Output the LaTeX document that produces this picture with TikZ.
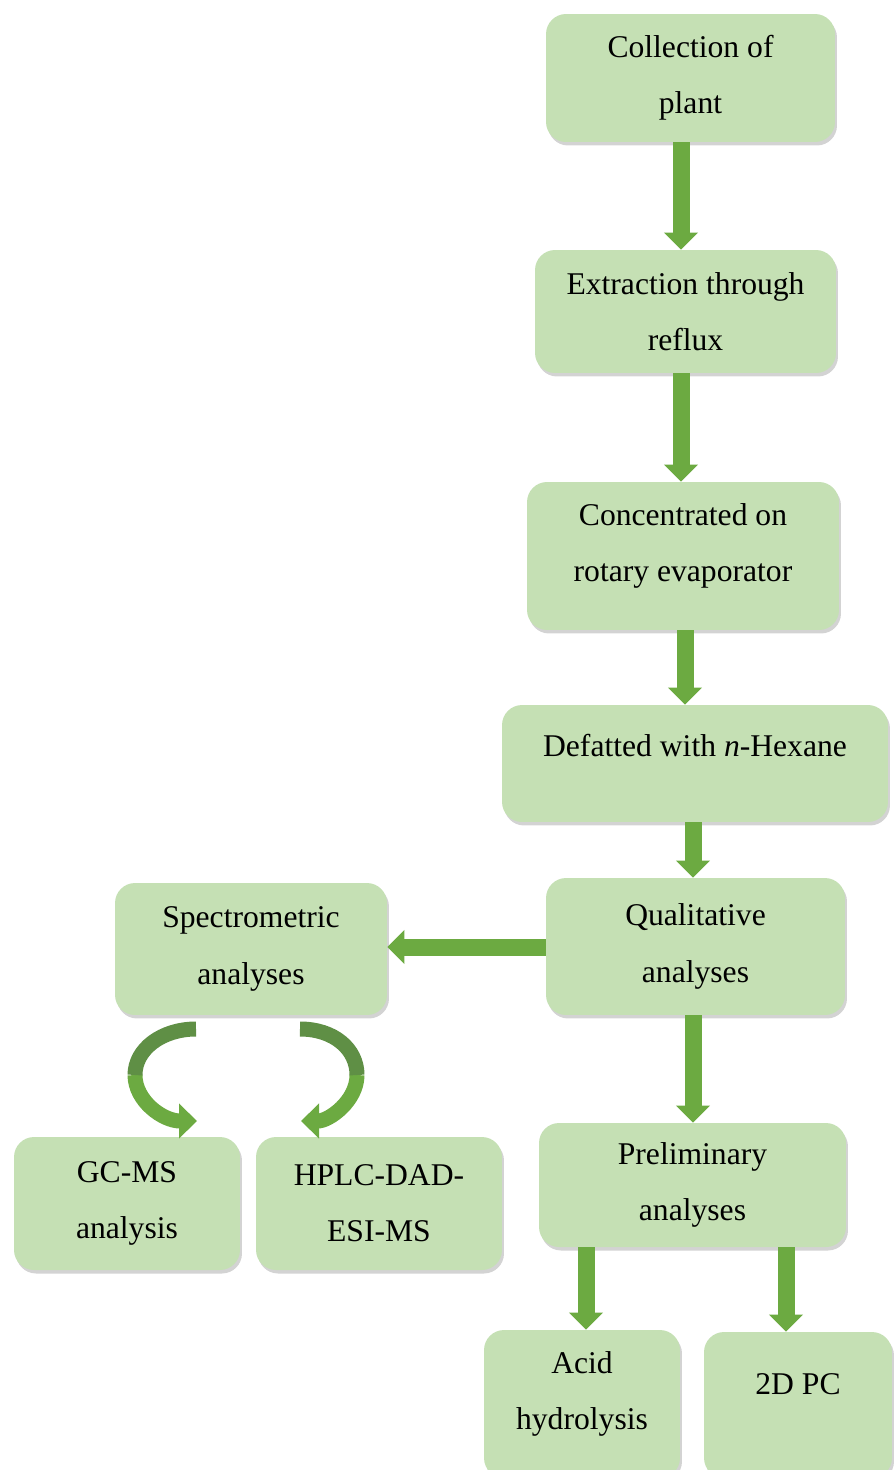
\documentclass[tikz,border=0pt]{standalone}
\usepackage{fontspec}
\setmainfont{Liberation Serif}
\usetikzlibrary{arrows.meta,shadows}
\definecolor{boxgreen}{HTML}{C5E0B4}
\definecolor{arrowgreen}{HTML}{6CAA41}
\definecolor{ribbondark}{HTML}{5F8F45}
\begin{document}
\begin{tikzpicture}[x=0.02cm,y=-0.02cm,
        box/.style={fill=boxgreen,rounded corners=0.4cm,align=center,inner sep=0pt,
            font=\fontsize{18}{32}\selectfont,
            drop shadow={shadow xshift=0.04cm,shadow yshift=-0.07cm,opacity=0.35}},
        flow/.style={arrowgreen,line width=0.34cm,-{Triangle[width=0.66cm,length=0.34cm]}},
        ribbon/.style={line width=0.3cm}]
                \useasboundingbox (0,0) rectangle (894,1470);
                \clip (0,0) rectangle (894,1470);
                % main column
                \node[box,minimum width=5.78cm,minimum height=2.56cm] (coll) at (690.5,78) {Collection of\\plant};
                \node[box,minimum width=6.02cm,minimum height=2.46cm] (extr) at (685.5,311.5) {Extraction through\\reflux};
                \node[box,minimum width=6.24cm,minimum height=2.96cm,text depth=0.53cm] (conc) at (683,556) {Concentrated on\\rotary evaporator};
                \node[box,minimum width=7.72cm,minimum height=2.34cm,text depth=0.74cm] (defat) at (695,763.5) {Defatted with \textit{n}-Hexane};
                \node[box,minimum width=5.98cm,minimum height=2.74cm] (qual) at (695.5,946.5) {Qualitative\\analyses};
                \node[box,minimum width=6.14cm,minimum height=2.48cm] (prel) at (692.5,1185) {Preliminary\\analyses};
                \node[box,minimum width=3.92cm,minimum height=2.96cm,text depth=0.53cm] (acid) at (582,1404) {Acid\\hydrolysis};
                \node[box,minimum width=3.76cm,minimum height=2.92cm,text depth=0.84cm] (pc) at (798,1405) {2D PC};
                % left branch
                \node[box,minimum width=5.44cm,minimum height=2.64cm] (spec) at (251,949) {Spectrometric\\analyses};
                \node[box,minimum width=4.52cm,minimum height=2.66cm] (gcms) at (127,1203.5) {GC-MS\\analysis};
                \node[box,minimum width=4.92cm,minimum height=2.66cm] (hplc) at (379,1203.5) {HPLC-DAD-\\ESI-MS};
                \draw[flow] (coll.south -| 681,0) -- (extr.north -| 681,0);
                \draw[flow] (extr.south -| 681,0) -- (conc.north -| 681,0);
                \draw[flow] (conc.south -| 685,0) -- (defat.north -| 685,0);
                \draw[flow] (defat.south -| 693,0) -- (qual.north -| 693,0);
                \draw[flow] (qual.south -| 693,0) -- (prel.north -| 693,0);
                \draw[flow] (prel.south -| 586,0) -- (acid.north -| 586,0);
                \draw[flow] (prel.south -| 786,0) -- (pc.north -| 786,0);
                \draw[flow] (qual.west |- 0,947) -- (spec.east |- 0,947);
                % curved arrows
                \coordinate (sl) at (196,1029);
                \coordinate (ml) at (135,1075);
                \coordinate (tl) at (197,1121);
                \coordinate (sr) at (300,1029);
                \coordinate (mr) at (357,1075);
                \coordinate (tr) at (301,1121);
                \draw[ribbon,arrowgreen,-{Triangle[width=0.68cm,length=0.36cm]}] (ml) .. controls (135,1101) and (163,1121) .. (tl);
                \draw[ribbon,ribbondark] (sl) .. controls (162,1029) and (135,1049) .. (ml);
                \draw[ribbon,arrowgreen,-{Triangle[width=0.68cm,length=0.36cm]}] (mr) .. controls (357,1101) and (329,1121) .. (tr);
                \draw[ribbon,ribbondark] (sr) .. controls (334,1029) and (357,1049) .. (mr);
            \end{tikzpicture}
\end{document}
